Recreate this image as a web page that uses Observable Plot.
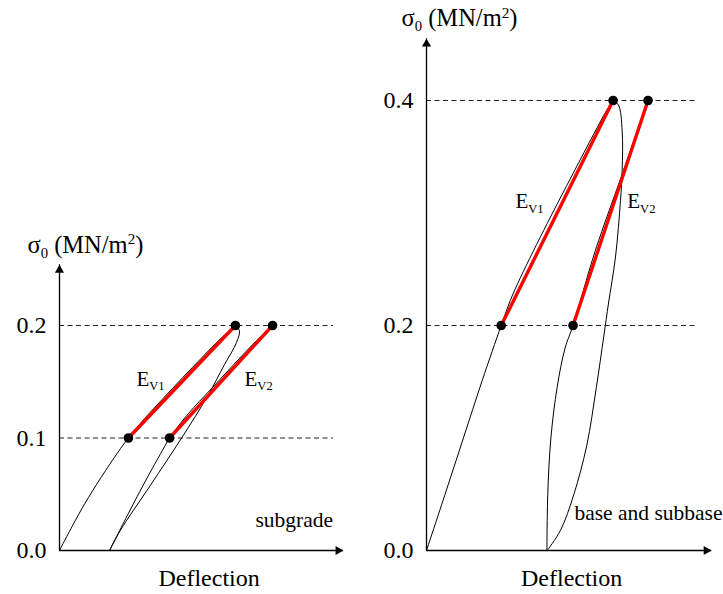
<!DOCTYPE html>
<html>
<head>
<meta charset="utf-8">
<script src="https://cdn.jsdelivr.net/npm/d3@7"></script>
<script src="https://cdn.jsdelivr.net/npm/@observablehq/plot@0.6"></script>
<style>
  body { margin: 0; background: #fff; }
  #chart { display: flex; width: 723px; height: 594px; overflow: hidden; }
  #chart svg { overflow: visible; }
  #chart svg, #chart svg text, #chart svg tspan {
    font-family: "Liberation Serif", "Times New Roman", "DejaVu Serif", serif !important;
  }
</style>
</head>
<body>
<div id="chart"></div>
<script>
// Plate load test: first loading, unloading and reloading of a bearing plate.
// Stress σ0 in MN/m² against deflection (deflection in relative units, 0–10).

// ---- subgrade ----
const subgradeLoading = [
  [0, 0], [0.56, 0.027], [1.01, 0.047], [1.61, 0.071], [2.20, 0.093], [2.41, 0.100],
  [3.00, 0.118], [3.60, 0.1345], [4.30, 0.1535], [5.00, 0.172], [5.60, 0.1875], [6.15, 0.200]
];
const subgradeUnloading = [
  [6.15, 0.200], [6.29, 0.1956], [6.19, 0.1849], [5.77, 0.1653], [5.17, 0.1369],
  [4.27, 0.100], [3.18, 0.058], [2.13, 0.018], [1.75, 0]
];
const subgradeReloading = [
  [1.75, 0], [2.41, 0.033], [3.01, 0.062], [3.60, 0.089], [3.85, 0.100],
  [4.50, 0.1215], [5.30, 0.1435], [6.10, 0.1655], [6.90, 0.1868], [7.45, 0.200]
];
const subgradeEv1 = [[2.41, 0.1], [6.15, 0.2]];
const subgradeEv2 = [[3.85, 0.1], [7.45, 0.2]];
const subgradeLevels = [0.1, 0.2];
const subgradeTicks = [0.0, 0.1, 0.2];

// ---- base and subbase ----
const baseLoading = [
  [0, 0], [0.68, 0.052], [1.30, 0.100], [1.96, 0.151], [2.63, 0.200],
  [2.95, 0.2222], [3.31, 0.2427], [4.25, 0.2907], [5.16, 0.3351], [5.90, 0.3707], [6.34, 0.3911], [6.57, 0.400]
];
const baseUnloading = [
  [6.57, 0.400], [6.76, 0.396], [6.89, 0.373], [6.89, 0.338], [6.83, 0.311], [6.65, 0.260],
  [6.41, 0.220], [6.24, 0.190], [5.98, 0.145], [5.64, 0.093], [5.19, 0.050], [4.72, 0.018], [4.25, 0]
];
const baseReloading = [
  [4.24, 0], [4.27, 0.050], [4.38, 0.100], [4.60, 0.145], [4.88, 0.180], [5.16, 0.200],
  [5.95, 0.267], [6.87, 0.333], [7.80, 0.400]
];
const baseEv1 = [[2.63, 0.2], [6.57, 0.4]];
const baseEv2 = [[5.16, 0.2], [7.80, 0.4]];
const baseLevels = [0.2, 0.4];
const baseTicks = [0.0, 0.2, 0.4];

// ---- texts ----
const axisTitle = "σ_{0} (MN/m^{2})";
const xTitle = "Deflection";
const secantNames = ["E_{V1}", "E_{V2}"];
const panelNames = ["subgrade", "base and subbase"];

const serif = "Liberation Serif, Times New Roman, DejaVu Serif, serif";

function panel(o) {
  const px = (d) => d[0], py = (d) => d[1];
  const curve = {x: px, y: py, curve: "catmull-rom", stroke: "#000", strokeWidth: 1};
  const dots = [...o.ev1, ...o.ev2];
  const txt = {fontFamily: serif, fill: "#000"};
  return Plot.plot({
    width: o.width,
    height: 594,
    marginLeft: o.marginLeft,
    marginRight: o.marginRight,
    marginTop: 10,
    marginBottom: 44,
    x: {domain: [0, 10], axis: null},
    y: {domain: [0, 0.48], axis: null},
    style: {background: "#fff", color: "#000", fontFamily: serif},
    marks: [
      // reference stress levels
      Plot.ruleY(o.levels, {x1: 0, x2: 9.58, stroke: "#222", strokeWidth: 1, strokeDasharray: "5,3.5"}),
      // axes with arrow heads
      Plot.ruleX([0], {y1: 0, y2: o.yTip, stroke: "#000", strokeWidth: 1.3}),
      Plot.ruleY([0], {x1: 0, x2: o.xTip, stroke: "#000", strokeWidth: 1.3}),
      Plot.dot([o.yTip], {x: 0, y: (d) => d, symbol: "triangle", r: 3.4, fill: "#000", dy: 5.3}),
      Plot.dot([o.xTip], {x: (d) => d, y: 0, symbol: "triangle", r: 3.4, fill: "#000", rotate: 90, dx: -5.3}),
      // tick labels
      Plot.text(o.ticks, {...txt, x: 0, y: (d) => d, text: (d) => d.toFixed(1), textAnchor: "end", dx: -13, fontSize: 24}),
      // load–deflection curves
      Plot.line(o.loading, curve),
      Plot.line(o.unloading, curve),
      Plot.line(o.reloading, curve),
      // secant moduli
      Plot.line(o.ev1, {x: px, y: py, stroke: "#ff0000", strokeWidth: 3.4}),
      Plot.line(o.ev2, {x: px, y: py, stroke: "#ff0000", strokeWidth: 3.4}),
      Plot.dot(dots, {x: px, y: py, r: 4.8, fill: "#000"}),
      // labels
      Plot.text(o.secantLabels, {...txt, x: "x", y: "y", text: "text", textAnchor: "start", fontSize: 21, ariaDescription: "rich"}),
      Plot.text([o.name], {...txt, x: o.namePos[0], y: o.namePos[1], textAnchor: "start", fontSize: 21.5}),
      Plot.text([xTitle], {...txt, x: o.xTitlePos, y: 0, dy: 28, fontSize: 24}),
      Plot.text([axisTitle], {...txt, x: o.titleX, y: o.yTip, dy: -20, textAnchor: "start", fontSize: 24.5, ariaDescription: "rich"})
    ]
  });
}

// Turn "_{..}" and "^{..}" parts of a label into sub/superscript tspans
function enrich(svg) {
  const NS = "http://www.w3.org/2000/svg";
  svg.querySelectorAll('g[aria-description="rich"] text').forEach((t) => {
    const fs = parseFloat(getComputedStyle(t).fontSize) || 21;
    const src = t.textContent;
    const parts = src.split(/(_\{[^}]*\}|\^\{[^}]*\})/).filter((s) => s.length);
    t.textContent = "";
    let shift = 0;
    for (const p of parts) {
      const ts = document.createElementNS(NS, "tspan");
      let target = 0;
      if (p.startsWith("_{")) {
        ts.textContent = p.slice(2, -1);
        ts.setAttribute("font-size", (fs * 0.6).toFixed(1));
        target = fs * 0.2;
      } else if (p.startsWith("^{")) {
        ts.textContent = p.slice(2, -1);
        ts.setAttribute("font-size", (fs * 0.62).toFixed(1));
        target = -fs * 0.36;
      } else {
        ts.textContent = p;
      }
      if (target !== shift) ts.setAttribute("dy", (target - shift).toFixed(2));
      shift = target;
      t.appendChild(ts);
    }
  });
}

const left = panel({
  width: 362, marginLeft: 59, marginRight: 17,
  loading: subgradeLoading, unloading: subgradeUnloading, reloading: subgradeReloading,
  ev1: subgradeEv1, ev2: subgradeEv2, levels: subgradeLevels, ticks: subgradeTicks,
  yTip: 0.254, xTip: 9.93,
  secantLabels: [
    {x: 2.69, y: 0.152, text: secantNames[0]},
    {x: 6.47, y: 0.152, text: secantNames[1]}
  ],
  name: panelNames[0], namePos: [6.85, 0.027],
  xTitlePos: 5.23, titleX: -1.12
});

const right = panel({
  width: 361, marginLeft: 64, marginRight: 13,
  loading: baseLoading, unloading: baseUnloading, reloading: baseReloading,
  ev1: baseEv1, ev2: baseEv2, levels: baseLevels, ticks: baseTicks,
  yTip: 0.455, xTip: 10.04,
  secantLabels: [
    {x: 3.13, y: 0.310, text: secantNames[0]},
    {x: 7.07, y: 0.310, text: secantNames[1]}
  ],
  name: panelNames[1], namePos: [5.21, 0.033],
  xTitlePos: 5.11, titleX: -0.88
});

const chart = document.getElementById("chart");
chart.append(left, right);
enrich(left);
enrich(right);
</script>
</body>
</html>
